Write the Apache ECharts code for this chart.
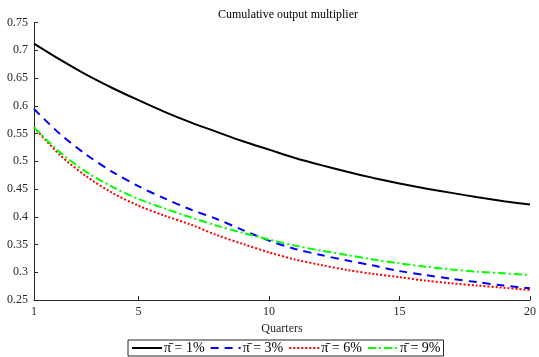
<!DOCTYPE html>
<html><head><meta charset="utf-8">
<script src="https://cdn.jsdelivr.net/npm/echarts@6/dist/echarts.min.js"></script>
<style>html,body{margin:0;padding:0;background:#fff}#c{width:539px;height:357px}</style>
</head><body><div id="c"></div>
<script>
const quarters = [1,2,3,4,5,6,7,8,9,10,11,12,13,14,15,16,17,18,19,20];
const pi1 = [0.712,0.683,0.656,0.632,0.610,0.589,0.570,0.553,0.536,0.521,0.506,0.493,0.481,0.470,0.460,0.451,0.443,0.435,0.428,0.422];
const pi3 = [0.594,0.549,0.512,0.481,0.455,0.433,0.413,0.396,0.376,0.357,0.342,0.331,0.321,0.312,0.302,0.295,0.288,0.282,0.276,0.271];
const pi6 = [0.561,0.511,0.473,0.443,0.420,0.402,0.386,0.367,0.351,0.336,0.323,0.313,0.304,0.297,0.291,0.285,0.280,0.276,0.272,0.268];
const pi9 = [0.561,0.516,0.481,0.454,0.432,0.415,0.399,0.384,0.371,0.359,0.348,0.339,0.331,0.323,0.316,0.310,0.305,0.301,0.298,0.295];
const xTicks = [1,5,10,15,20];
const seriesNames = ['\u03C0\u0304 = 1%','\u03C0\u0304 = 3%','\u03C0\u0304 = 6%','\u03C0\u0304 = 9%'];
const titleText = 'Cumulative output multiplier';
const xName = 'Quarters';

const font = 'Liberation Serif';
const pairs = a => quarters.map((q,i)=>[q,a[i]]);
const chart = echarts.init(document.getElementById('c'));
const mk = (name, data, color, type) => ({
  name, type:'line', data: pairs(data), symbol:'none', smooth:0.3,
  lineStyle:{color, width:2, type}, itemStyle:{color}
});
chart.setOption({
  animation:false,
  title:{text:titleText, left:283, textAlign:'center', top:4,
    textStyle:{fontFamily:font, fontSize:12, fontWeight:'normal', color:'#000'}},
  grid:{left:34, right:7, top:22.5, bottom:57},
  xAxis:{type:'value', min:1, max:20, name:xName, nameLocation:'middle', nameGap:20,
    nameTextStyle:{fontFamily:font, fontSize:12, color:'#262626'},
    axisLine:{lineStyle:{color:'#262626', width:1}},
    axisTick:{inside:true, length:4, customValues:xTicks, lineStyle:{color:'#262626'}},
    axisLabel:{customValues:xTicks, fontFamily:font, fontSize:12, color:'#262626', margin:6},
    splitLine:{show:false}},
  yAxis:{type:'value', min:0.25, max:0.75, interval:0.05,
    axisLine:{show:true, lineStyle:{color:'#262626', width:1}},
    axisTick:{show:true, inside:true, length:4, lineStyle:{color:'#262626'}},
    axisLabel:{fontFamily:font, fontSize:12, color:'#262626', margin:6,
      formatter: v => String(+v.toFixed(2))},
    splitLine:{show:false}},
  legend:{bottom:1, left:128, itemWidth:30, itemHeight:10, itemGap:5,
    borderColor:'#262626', borderWidth:1, borderRadius:0, padding:[1,3,1,3],
    itemStyle:{color:'transparent', borderColor:'transparent', borderWidth:0, opacity:0},
    textStyle:{fontFamily:font, fontSize:14, color:'#000', padding:[0,0,0,-3]},
    data:seriesNames},
  series:[
    mk(seriesNames[0], pi1, '#000000', 'solid'),
    mk(seriesNames[1], pi3, '#0000ff', [8,6]),
    mk(seriesNames[2], pi6, '#ff0000', [2,2]),
    mk(seriesNames[3], pi9, '#00ff00', [8,3,2,3])
  ]
});
</script></body></html>
